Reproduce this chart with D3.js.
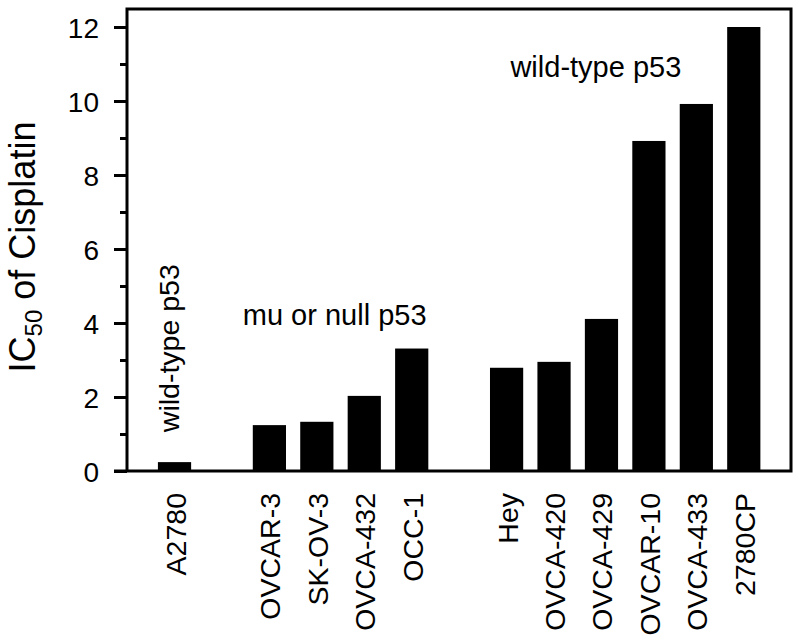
<!DOCTYPE html>
<html>
<head>
<meta charset="utf-8">
<script src="https://cdn.jsdelivr.net/npm/d3@7"></script>
<style>
  html, body { margin: 0; padding: 0; background: #fff; }
  text { font-family: Arial, "Liberation Sans", Helvetica, sans-serif; fill: #000; }
</style>
</head>
<body>
<svg id="chart" width="800" height="642"></svg>
<script>
// Data
const categories = ["A2780", "", "OVCAR-3", "SK-OV-3", "OVCA-432", "OCC-1", " ", "Hey", "OVCA-420", "OVCA-429", "OVCAR-10", "OVCA-433", "2780CP"];
const values = [0.24, null, 1.24, 1.33, 2.03, 3.31, null, 2.79, 2.95, 4.11, 8.92, 9.92, 12.0];
const yTicks = [0, 2, 4, 6, 8, 10, 12];
const yMinorTicks = [1, 3, 5, 7, 9, 11];
const annotations = [
  { text: "wild-type p53", anchor: "A2780", value: 1.05, rotate: true },
  { text: "mu or null p53", anchor: "OVCAR-3", value: 3.95, rotate: false },
  { text: "wild-type p53", anchor: "OVCA-420", value: 10.65, rotate: false }
];
const yTitleMain = "IC";
const yTitleSub = "50";
const yTitleRest = " of Cisplatin";

(function () {
const svg = d3.select("#chart");
const L = 127, R = 791, T = 9, B = 471;

const x = d3.scaleBand()
  .domain(categories)
  .range([150.8, 767.5])
  .paddingInner(0.3)
  .paddingOuter(0.15);

const y = d3.scaleLinear().domain([0, 12]).range([B, 27]);

// Bars
const data = categories.map((c, i) => ({ c, v: values[i] })).filter(d => d.v !== null);
svg.append("g").selectAll("rect").data(data).enter().append("rect")
  .attr("x", d => x(d.c))
  .attr("y", d => y(d.v))
  .attr("width", x.bandwidth())
  .attr("height", d => y(0) - y(d.v))
  .attr("fill", "#000");

// Frame
svg.append("rect")
  .attr("x", L).attr("y", T)
  .attr("width", R - L).attr("height", B - T)
  .attr("fill", "none").attr("stroke", "#000").attr("stroke-width", 3);

// Y axis (major)
const yAxis = d3.axisLeft(y).tickValues(yTicks).tickSize(13).tickPadding(15).tickFormat(d3.format("d"));
const gy = svg.append("g").attr("transform", `translate(${L},0)`).call(yAxis);
gy.select(".domain").remove();
gy.selectAll(".tick line").attr("stroke", "#000").attr("stroke-width", 3);
gy.selectAll(".tick text").style("font-size", "28px").attr("dy", "0.36em")
  .style("font-family", "Arial, 'Liberation Sans', sans-serif").attr("fill", "#000");

// Y axis (minor)
const gyMinor = svg.append("g").attr("transform", `translate(${L},0)`)
  .call(d3.axisLeft(y).tickValues(yMinorTicks).tickSize(7).tickFormat(""));
gyMinor.select(".domain").remove();
gyMinor.selectAll(".tick line").attr("stroke", "#000").attr("stroke-width", 3);

// Extend bottom axis line to the left
svg.append("line").attr("x1", 114).attr("x2", L).attr("y1", B).attr("y2", B)
  .attr("stroke", "#000").attr("stroke-width", 3);

// X category labels
const realCats = categories.filter(c => c.trim() !== "");
svg.append("g").selectAll("text").data(realCats).enter().append("text")
  .attr("transform", d => `translate(${x(d) + x.bandwidth() / 2 + 11},493) rotate(-90)`)
  .attr("text-anchor", "end")
  .style("font-size", "28.5px")
  .text(d => d);

// Y title
const title = svg.append("text")
  .attr("transform", "translate(35,247) rotate(-90)")
  .attr("text-anchor", "middle")
  .style("font-size", "36px");
title.append("tspan").text(yTitleMain);
title.append("tspan").attr("dy", 7).style("font-size", "24px").text(yTitleSub);
title.append("tspan").attr("dy", -7).text(yTitleRest);

// Annotations
annotations.forEach(a => {
  if (a.rotate) {
    svg.append("text")
      .attr("transform", `translate(${x(a.anchor) + x.bandwidth() / 2 + 4},${y(a.value)}) rotate(-90)`)
      .attr("text-anchor", "start")
      .style("font-size", "28.5px")
      .text(a.text);
  } else {
    svg.append("text")
      .attr("x", a.anchor === "OVCAR-3" ? x(a.anchor) - 10 : x(a.anchor) - 27)
      .attr("y", y(a.value))
      .attr("text-anchor", "start")
      .style("font-size", "29px")
      .text(a.text);
  }
});
})();
</script>
</body>
</html>
